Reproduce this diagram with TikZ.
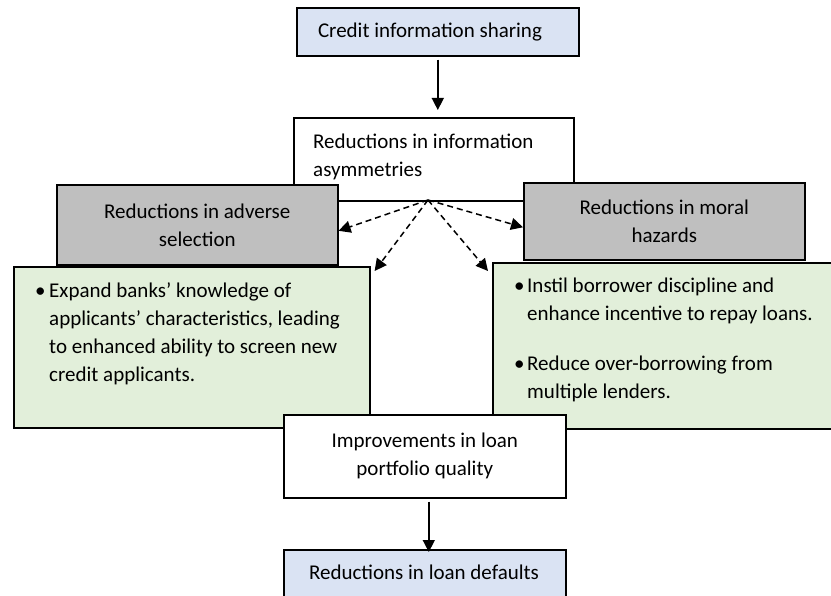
\documentclass[tikz,border=0pt]{standalone}
\usepackage{fontspec}
\setmainfont{Carlito}
\usetikzlibrary{arrows.meta}
\definecolor{blueF}{HTML}{DAE3F3}
\definecolor{grayF}{HTML}{BFBFBF}
\definecolor{greenF}{HTML}{E2EFDA}
\begin{document}
\begin{tikzpicture}[x=1pt,y=-1pt,
  box/.style={draw=black, line width=1.6pt, inner sep=0pt, anchor=north west, align=center, font=\fontsize{21}{28}\selectfont},
  txt/.style={inner sep=0pt, anchor=base west, font=\fontsize{21}{28}\selectfont},
  arr/.style={line width=1.5pt, -{Triangle[length=12pt,width=12pt]}},
  darr/.style={line width=1.5pt, dash pattern=on 6pt off 4pt, -{Triangle[length=12pt,width=12pt]}}]
\useasboundingbox (0,0) rectangle (831,596);
\clip (0,0) rectangle (831,596);

\node[box, fill=white, minimum width=280pt, minimum height=83pt] (info) at (293,117) {};
\node[txt] (infotxt) at (313,149) {\begin{tabular}[t]{@{}l@{}}Reductions in information\\asymmetries\end{tabular}};
\node[box, fill=grayF, minimum width=281pt, minimum height=80pt] (advsel) at (56,184) {Reductions in adverse\\selection};
\node[box, fill=grayF, minimum width=281pt, minimum height=77pt] (moral) at (523,182) {Reductions in moral\\hazards};
\node[box, fill=greenF, minimum width=356pt, minimum height=161pt] (adgreen) at (13,266) {};
\node[box, fill=greenF, minimum width=345pt, minimum height=166pt] (mhgreen) at (492,262) {};
\node[box, fill=white, minimum width=282pt, minimum height=83pt] (improv) at (283,414) {Improvements in loan\\portfolio quality};
\node[box, fill=blueF, minimum width=282pt, minimum height=48pt] (credit) at (296,7) {};
\node[txt, anchor=center] (credtxt) at (430,32) {Credit information sharing};
\node[box, fill=blueF, minimum width=282pt, minimum height=55pt] (defaults) at (283,549) {};
\node[txt, anchor=center] (deftxt) at (424,572) {Reductions in loan defaults};

\node[txt] (adtxt) at (35,298) {\begin{tabular}[t]{@{}l@{}}
\makebox[14pt][l]{\textbullet}Expand banks’ knowledge of\\
\hspace*{14pt}applicants’ characteristics, leading\\
\hspace*{14pt}to enhanced ability to screen new\\
\hspace*{14pt}credit applicants.
\end{tabular}};
\node[txt] (mhtxt) at (514,293) {\begin{tabular}[t]{@{}l@{}}
\makebox[13pt][l]{\textbullet}Instil borrower discipline and\\
\hspace*{13pt}enhance incentive to repay loans.\\[22pt]
\makebox[13pt][l]{\textbullet}Reduce over-borrowing from\\
\hspace*{13pt}multiple lenders.
\end{tabular}};

\coordinate (hub) at (428,200);
\draw[arr] ([yshift=-3pt]credit.south) -- ([yshift=7pt]credit.south |- info.north);
\draw[arr] ([xshift=4pt,yshift=-3pt]improv.south) -- ([xshift=4pt,yshift=-3pt]improv.south |- defaults.north);
\draw[darr] (hub) -- ([yshift=-6pt]advsel.east);
\draw[darr] (hub) -- ([xshift=4pt,yshift=-5pt]adgreen.north east);
\draw[darr] (hub) -- ([xshift=-4pt,yshift=-9pt]mhgreen.north west);
\draw[darr] (hub) -- ([yshift=-6pt]moral.west);
\end{tikzpicture}
\end{document}
